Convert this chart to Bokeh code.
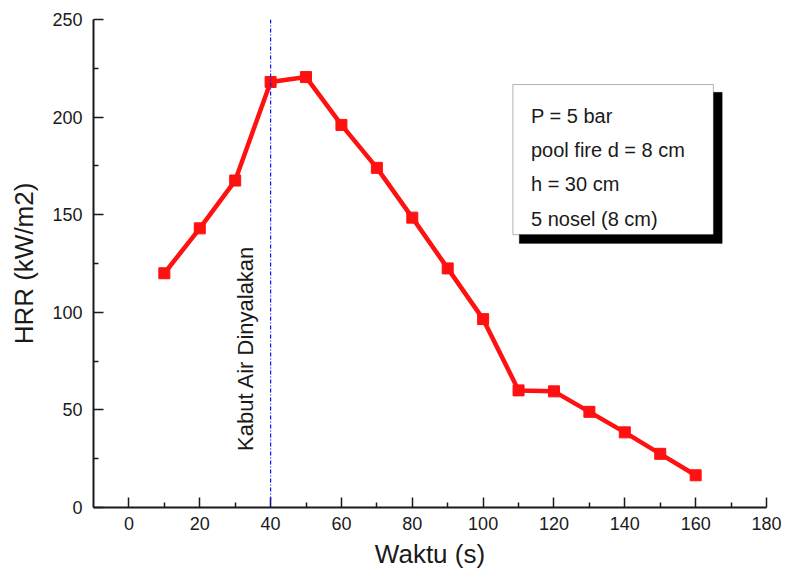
from bokeh.plotting import figure
from bokeh.models import FixedTicker, Range1d, BoxAnnotation, Label, Span
from bokeh.embed import file_html
from bokeh.resources import INLINE

# ---- data ----
time_s = [10, 20, 30, 40, 50, 60, 70, 80, 90, 100, 110, 120, 130, 140, 150, 160]
hrr = [120, 143, 167.5, 218, 220.5, 196, 174, 148.5, 122.5, 96.5, 60, 59.5, 49, 38.5, 27.5, 16.5]
water_mist_time = 40
water_mist_text = "Kabut Air Dinyalakan"
info_lines = ["P = 5 bar", "pool fire d = 8 cm", "h = 30 cm", "5 nosel (8 cm)"]
x_ticks = [0, 20, 40, 60, 80, 100, 120, 140, 160, 180]
x_minor = [10, 30, 50, 70, 90, 110, 130, 150, 170]
y_ticks = [0, 50, 100, 150, 200, 250]
y_minor = [25, 75, 125, 175, 225]
x_label = "Waktu (s)"
y_label = "HRR (kW/m2)"

FONT = "Liberation Sans"
INK = "#1a1a1a"

p = figure(width=786, height=575, output_backend="svg", toolbar_location=None,
           x_range=Range1d(-10, 180), y_range=Range1d(0, 250),
           min_border_left=93, min_border_right=20, min_border_top=19, min_border_bottom=68)
p.outline_line_color = None
p.xgrid.grid_line_color = None
p.ygrid.grid_line_color = None
p.background_fill_color = "white"
p.border_fill_color = "white"

for ax in (p.xaxis[0], p.yaxis[0]):
    ax.axis_line_width = 2
    ax.axis_line_color = INK
    ax.major_tick_line_color = INK
    ax.minor_tick_line_color = INK
    ax.major_tick_line_width = 1.5
    ax.minor_tick_line_width = 1.5
    ax.major_tick_in = 10
    ax.major_tick_out = 0
    ax.minor_tick_in = 5
    ax.minor_tick_out = 0
    ax.major_label_text_font = FONT
    ax.major_label_text_font_size = "18px"
    ax.major_label_text_color = INK
    ax.axis_label_text_font = FONT
    ax.axis_label_text_font_size = "26px"
    ax.axis_label_text_font_style = "normal"
    ax.axis_label_text_color = INK

p.xaxis[0].ticker = FixedTicker(ticks=x_ticks, minor_ticks=x_minor)
p.yaxis[0].ticker = FixedTicker(ticks=y_ticks, minor_ticks=y_minor)
p.xaxis[0].axis_label = x_label
p.yaxis[0].axis_label = y_label
p.xaxis[0].major_label_standoff = 9
p.yaxis[0].major_label_standoff = 11
p.xaxis[0].axis_label_standoff = 6
p.yaxis[0].axis_label_standoff = 10

# vertical marker line
p.add_layout(Span(location=water_mist_time, dimension="height", line_color="#1010ff",
                  line_dash="4 2 1 2", line_width=1.2))
p.add_layout(Label(x=water_mist_time, y=29, x_offset=-13, text=water_mist_text, angle=1.5708,
                   text_align="left", text_baseline="bottom", text_font=FONT,
                   text_font_size="22px", text_color=INK))

# data series
p.line(time_s, hrr, line_color="#ff1111", line_width=4.5)
p.scatter(time_s, hrr, marker="square", size=11, fill_color="#ff1111", line_color="#ff1111")

# info box with shadow
p.add_layout(BoxAnnotation(left=110.2, right=167.5, bottom=135.3, top=212.7,
                           fill_color="black", fill_alpha=1, line_color="black"))
p.add_layout(BoxAnnotation(left=108.4, right=165.0, bottom=139.8, top=216.7,
                           fill_color="white", fill_alpha=1, line_color="black", line_width=1))
for i, t in enumerate(info_lines):
    p.add_layout(Label(x=113.5, y=200.4 - i * 17.45, text=t, text_align="left",
                       text_baseline="alphabetic", text_font=FONT, text_font_size="20px",
                       text_color=INK))

open("out.html", "w").write(file_html(p, INLINE))
